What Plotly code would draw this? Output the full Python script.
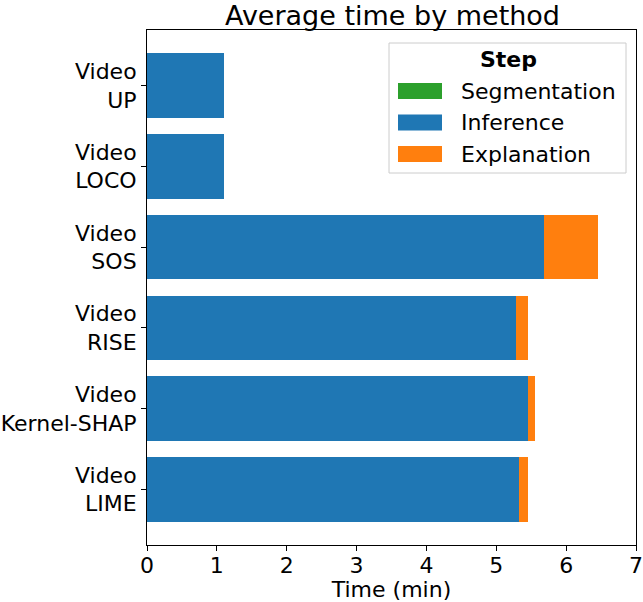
import plotly.graph_objects as go

methods = ["Video<br>LIME", "Video<br>Kernel-SHAP", "Video<br>RISE", "Video<br>SOS", "Video<br>LOCO", "Video<br>UP"]
segmentation = [0.0, 0.0, 0.0, 0.0, 0.0, 0.0]
inference = [5.32, 5.45, 5.28, 5.68, 1.10, 1.10]
explanation = [0.13, 0.10, 0.17, 0.78, 0.0, 0.0]
x_ticks = [0, 1, 2, 3, 4, 5, 6, 7]
steps = ["Segmentation", "Inference", "Explanation"]
colors = ["#2ca02c", "#1f77b4", "#ff7f0e"]

W, H = 643, 602
L, R, T, B = 147, 7, 30, 57
pw, ph = W - L - R, H - T - B

def px(x):
    return (x - L) / pw

def py(y):
    return (H - B - y) / ph

fig = go.Figure()
for name, vals, col in zip(steps, [segmentation, inference, explanation], colors):
    fig.add_trace(go.Bar(y=methods, x=vals, name=name, orientation="h",
                         marker=dict(color=col, line=dict(width=0)), width=0.8,
                         showlegend=False))

# manual matplotlib-style legend
shapes = [dict(type="rect", xref="paper", yref="paper",
               x0=px(389), x1=px(626), y0=py(173), y1=py(43),
               line=dict(color="#cccccc", width=1), fillcolor="rgba(255,255,255,0.8)", layer="above")]
annotations = [dict(text="<b>Step</b>", xref="paper", yref="paper", x=px(508), y=py(60),
                    xanchor="center", yanchor="middle", showarrow=False, font=dict(size=22)),
               dict(text="Average time by method", xref="paper", yref="paper", x=px(392), y=py(15),
                    xanchor="center", yanchor="middle", showarrow=False, font=dict(size=27))]
for i, (name, col) in enumerate(zip(steps, colors)):
    cy = 91 + i * 31.5
    shapes.append(dict(type="rect", xref="paper", yref="paper",
                       x0=px(398), x1=px(442), y0=py(cy + 8), y1=py(cy - 8),
                       line=dict(width=0), fillcolor=col, layer="above"))
    annotations.append(dict(text=name, xref="paper", yref="paper", x=px(459), y=py(cy),
                            xanchor="left", yanchor="middle", showarrow=False, font=dict(size=22)))

fig.update_layout(
    barmode="stack",
    width=W, height=H,
    margin=dict(l=L, r=R, t=T, b=B, autoexpand=False),
    paper_bgcolor="white", plot_bgcolor="white",
    font=dict(family="DejaVu Sans", size=22, color="black"),
    showlegend=False,
    shapes=shapes,
    annotations=annotations,
    xaxis=dict(range=[0, 7], tickvals=x_ticks, showgrid=False, zeroline=False,
               showline=True, linecolor="black", linewidth=1, mirror=True,
               ticks="outside", ticklen=5, tickcolor="black", automargin=False,
               tickfont=dict(size=22), ticklabelstandoff=-4,
               title=dict(text="Time (min)", standoff=0, font=dict(size=22))),
    yaxis=dict(range=[-0.69, 5.69], showgrid=False, zeroline=False,
               showline=True, linecolor="black", linewidth=1, mirror=True,
               ticks="outside", ticklen=5, tickcolor="black", automargin=False,
               tickfont=dict(size=22)),
)

fig.write_html("out.html", config={"displayModeBar": False},
               post_script="document.body.style.margin='0';document.body.style.overflow='hidden';")
